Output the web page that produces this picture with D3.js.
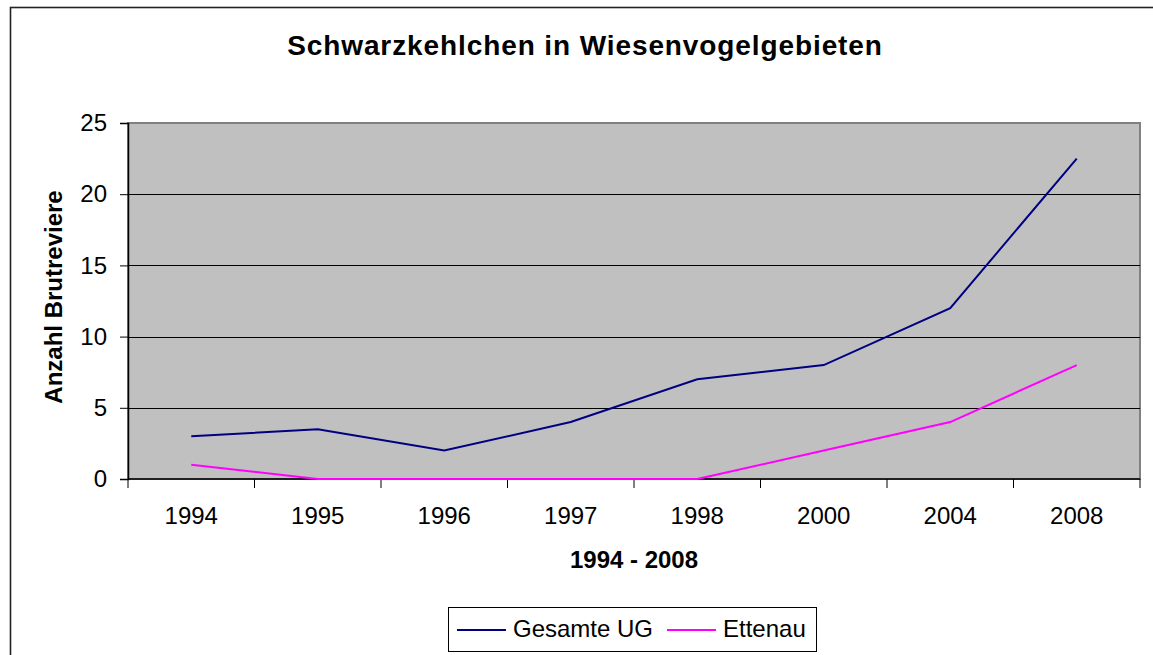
<!DOCTYPE html>
<html>
<head>
<meta charset="utf-8">
<script src="https://cdn.jsdelivr.net/npm/d3@7"></script>
<style>
  body { margin: 0; background: #fff; }
  svg { display: block; font-family: "Liberation Sans", Arial, sans-serif; }
</style>
</head>
<body>
<svg id="chart" width="1153" height="655"></svg>
<script>
// données
var years = ["1994", "1995", "1996", "1997", "1998", "2000", "2004", "2008"];
var gesamte = [3, 3.5, 2, 4, 7, 8, 12, 22.5];
var ettenau = [1, 0, 0, 0, 0, 2, 4, 8];
var yTicks = [0, 5, 10, 15, 20, 25];
var seriesNames = ["Gesamte UG", "Ettenau"];
var seriesColors = ["#000080", "#FF00FF"];

var svg = d3.select("#chart");
var margin = {top: 123, right: 13, bottom: 176, left: 128},
    width = 1153 - margin.left - margin.right,
    height = 655 - margin.top - margin.bottom;

// cadre extérieur
svg.append("rect")
    .attr("x", 10.5).attr("y", 7.5)
    .attr("width", 1200).attr("height", 700)
    .attr("fill", "none").attr("stroke", "#222").attr("stroke-width", 1.6);

var g = svg.append("g").attr("transform", `translate(${margin.left},${margin.top})`);

var xScale = d3.scaleBand().domain(years).range([0, width]);
var yScale = d3.scaleLinear().domain([0, 25]).range([height, 0]);

// zone du graphique
g.append("rect")
    .attr("width", width).attr("height", height)
    .attr("fill", "#C0C0C0").attr("stroke", "#808080").attr("stroke-width", 2);

// grille
g.selectAll(".grid")
    .data(yTicks.filter(d => d > 0 && d < 25))
    .enter().append("line")
    .attr("x1", 0).attr("x2", width)
    .attr("y1", d => Math.round(yScale(d)) + 0.5)
    .attr("y2", d => Math.round(yScale(d)) + 0.5)
    .attr("stroke", "#000").attr("stroke-width", 1);

// axe y
var yAxis = g.append("g")
    .call(d3.axisLeft(yScale).tickValues(yTicks).tickSize(8).tickPadding(13).tickFormat(d3.format("d")));
yAxis.select(".domain").attr("stroke", "#000").attr("stroke-width", 1.5);
yAxis.selectAll("text").style("font-size", "24px").attr("fill", "#000");

// axe x : graduations aux bornes des bandes
var xAxis = g.append("g").attr("transform", `translate(0,${height})`);
xAxis.append("line")
    .attr("x1", 0).attr("x2", width)
    .attr("stroke", "#000").attr("stroke-width", 1.5);
var bounds = years.map(d => xScale(d)).concat([width]);
xAxis.selectAll(".tick")
    .data(bounds).enter().append("line")
    .attr("x1", d => d).attr("x2", d => d)
    .attr("y1", 0).attr("y2", 9)
    .attr("stroke", "#000").attr("stroke-width", 1);
xAxis.selectAll(".lab")
    .data(years).enter().append("text")
    .attr("x", d => xScale(d) + xScale.bandwidth() / 2)
    .attr("y", 45)
    .attr("text-anchor", "middle")
    .style("font-size", "24px")
    .text(d => d);

// lignes
var line = d3.line()
    .x((d, i) => xScale(years[i]) + xScale.bandwidth() / 2)
    .y(d => yScale(d));
[gesamte, ettenau].forEach(function(s, k) {
    g.append("path")
        .datum(s)
        .attr("d", line)
        .attr("fill", "none")
        .attr("stroke", seriesColors[k])
        .attr("stroke-width", 2);
});

// titres
svg.append("text")
    .attr("x", 585).attr("y", 55)
    .attr("text-anchor", "middle")
    .style("font-size", "28px").style("font-weight", "bold").style("letter-spacing", "0.9px")
    .text("Schwarzkehlchen in Wiesenvogelgebieten");

svg.append("text")
    .attr("x", 634).attr("y", 568)
    .attr("text-anchor", "middle")
    .style("font-size", "24px").style("font-weight", "bold")
    .text("1994 - 2008");

svg.append("text")
    .attr("transform", "translate(62,297) rotate(-90)")
    .attr("text-anchor", "middle")
    .style("font-size", "24px").style("font-weight", "bold")
    .text("Anzahl Brutreviere");

// légende
var legend = svg.append("g");
legend.append("rect")
    .attr("x", 448.5).attr("y", 607.5).attr("width", 368).attr("height", 44)
    .attr("fill", "#fff").attr("stroke", "#000").attr("stroke-width", 1);
var legX = [457, 667];
var legTextX = [513, 723];
seriesNames.forEach(function(n, k) {
    legend.append("line")
        .attr("x1", legX[k]).attr("x2", legX[k] + 49)
        .attr("y1", 630).attr("y2", 630)
        .attr("stroke", seriesColors[k]).attr("stroke-width", 2);
    legend.append("text")
        .attr("x", legTextX[k]).attr("y", 637)
        .style("font-size", "24px")
        .text(n);
});
</script>
</body>
</html>
